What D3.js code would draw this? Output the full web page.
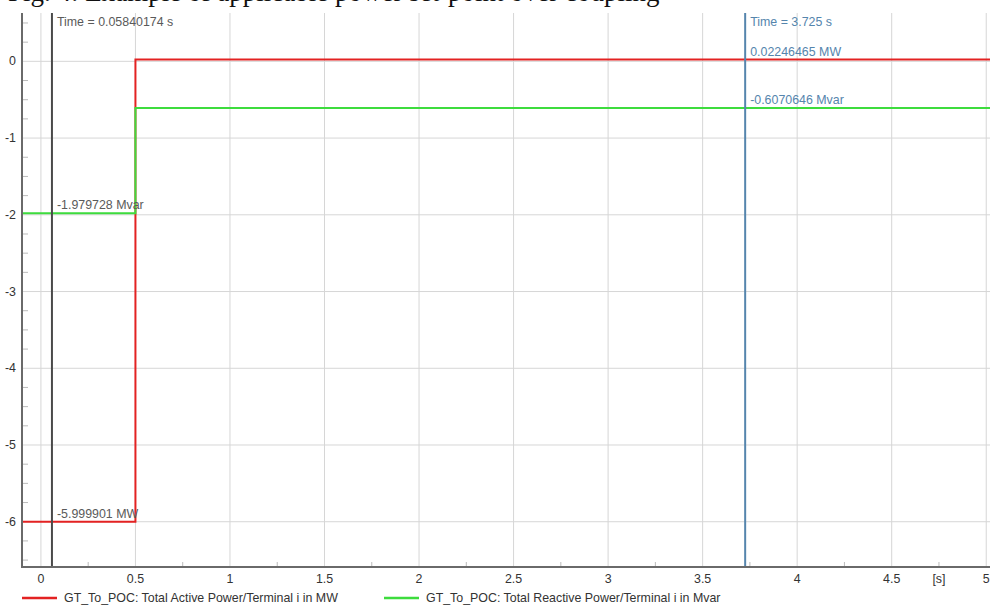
<!DOCTYPE html>
<html>
<head>
<meta charset="utf-8">
<style>
  body { margin: 0; background: #fff; }
  text { font-family: "Liberation Sans", Arial, sans-serif; }
</style>
</head>
<body>
<script src="https://cdn.jsdelivr.net/npm/d3@7"></script>
<script>
  const width = 998,
        height = 607

  const colors = {active: '#e32222', reactive: '#3ddc3d', axis: '#6a6a6a',
                  grid: '#d6d6d6', text: '#333', label: '#5a5a5a',
                  cursorA: '#4a4a4a', cursorB: '#5585ad'}

  const fontSize = "12.4px"

  // series (time in s)
  const activeTime = [-0.1, 0.5, 0.5, 0.5, 5.02]
  const activeValue = [-5.999901, -5.999901, -5.8, 0.02246465, 0.02246465]
  const reactiveTime = [-0.1, 0.5, 0.5, 0.5, 5.02]
  const reactiveValue = [-1.979728, -1.979728, -1.8, -0.6070646, -0.6070646]

  const xTicks = [0, 0.5, 1, 1.5, 2, 2.5, 3, 3.5, 4, 4.5, 5]
  const xMinor = d3.range(0.25, 5, 0.5)
  const yTicks = [0, -1, -2, -3, -4, -5, -6]
  const yMinor = d3.range(-6.5, 0.6, 0.25).filter(d => Math.abs(d - Math.round(d)) > 0.01)

  const cursorTimes = [0.05840174, 3.725]
  const legendNames = ['GT_To_POC: Total Active Power/Terminal i in MW',
                       'GT_To_POC: Total Reactive Power/Terminal i in Mvar']

  const plot = {left: 22, right: 990, top: 13, bottom: 567}

  const xScale = d3.scaleLinear()
    .domain([-0.1, 5.02])
    .range([plot.left, plot.right])

  const yScale = d3.scaleLinear()
    .domain([-6.59, 0.63])
    .range([plot.bottom, plot.top])

  const svg = d3.select("body")
    .append("svg")
      .attr("width", width)
      .attr("height", height)

  // caption above the chart, cut off by the top edge as in the source
  svg.append("text")
    .attr("x", 8)
    .attr("y", 1)
    .style("font-family", "'Liberation Serif', serif")
    .style("font-size", "27px")
    .style("fill", "#111")
    .text("Fig. 4: Example of applicable power set-point over coupling")

  // grid
  svg.append("g").selectAll("line")
    .data(xTicks)
    .enter().append("line")
      .attr("x1", d => xScale(d)).attr("x2", d => xScale(d))
      .attr("y1", plot.top).attr("y2", plot.bottom)
      .attr("stroke", colors.grid)
      .attr("stroke-width", 1)

  svg.append("g").selectAll("line")
    .data(yTicks)
    .enter().append("line")
      .attr("x1", plot.left).attr("x2", plot.right)
      .attr("y1", d => yScale(d)).attr("y2", d => yScale(d))
      .attr("stroke", colors.grid)
      .attr("stroke-width", 1)

  // minor ticks
  svg.append("g").selectAll("line")
    .data(xMinor)
    .enter().append("line")
      .attr("x1", d => xScale(d)).attr("x2", d => xScale(d))
      .attr("y1", plot.bottom).attr("y2", plot.bottom - 5)
      .attr("stroke", '#bbb')

  svg.append("g").selectAll("line")
    .data(yMinor)
    .enter().append("line")
      .attr("x1", plot.left).attr("x2", plot.left + 6)
      .attr("y1", d => yScale(d)).attr("y2", d => yScale(d))
      .attr("stroke", '#bbb')

  // series
  const line = d3.line()
    .x(d => xScale(d[0]))
    .y(d => yScale(d[1]))

  svg.append("path")
    .datum(activeTime.map((t, i) => [t, activeValue[i]]))
    .attr("d", line)
    .attr("fill", "none")
    .attr("stroke", colors.active)
    .attr("stroke-width", 2)

  svg.append("path")
    .datum(reactiveTime.map((t, i) => [t, reactiveValue[i]]))
    .attr("d", line)
    .attr("fill", "none")
    .attr("stroke", colors.reactive)
    .attr("stroke-width", 2)

  // cursors
  const cursorColors = [colors.cursorA, colors.cursorB]
  svg.append("g").selectAll("line")
    .data(cursorTimes)
    .enter().append("line")
      .attr("x1", d => xScale(d)).attr("x2", d => xScale(d))
      .attr("y1", plot.top).attr("y2", plot.bottom)
      .attr("stroke", (d, i) => cursorColors[i])
      .attr("stroke-width", 2)

  svg.append("g").selectAll("text")
    .data(cursorTimes)
    .enter().append("text")
      .attr("x", d => xScale(d) + 5)
      .attr("y", 26)
      .style("font-size", fontSize)
      .style("fill", (d, i) => i ? colors.cursorB : colors.label)
      .text(d => `Time = ${d} s`)

  // value labels at the cursors
  const valueLabels = [
    {t: cursorTimes[0], v: reactiveValue[0], text: `${reactiveValue[0]} Mvar`, color: colors.label},
    {t: cursorTimes[0], v: activeValue[0], text: `${activeValue[0]} MW`, color: colors.label},
    {t: cursorTimes[1], v: activeValue[4], text: `${activeValue[4]} MW`, color: colors.cursorB},
    {t: cursorTimes[1], v: reactiveValue[4], text: `${reactiveValue[4]} Mvar`, color: colors.cursorB}
  ]
  svg.append("g").selectAll("text")
    .data(valueLabels)
    .enter().append("text")
      .attr("x", d => xScale(d.t) + 5)
      .attr("y", d => yScale(d.v) - 4)
      .style("font-size", fontSize)
      .style("fill", d => d.color)
      .text(d => d.text)

  // axes lines
  svg.append("line")
    .attr("x1", plot.left).attr("x2", plot.left)
    .attr("y1", plot.top).attr("y2", plot.bottom + 1)
    .attr("stroke", colors.axis).attr("stroke-width", 2)
  svg.append("line")
    .attr("x1", plot.left - 1).attr("x2", plot.right)
    .attr("y1", plot.bottom).attr("y2", plot.bottom)
    .attr("stroke", colors.axis).attr("stroke-width", 2)

  // tick labels
  svg.append("g").selectAll("text")
    .data(xTicks)
    .enter().append("text")
      .attr("x", d => xScale(d))
      .attr("y", 583)
      .style("text-anchor", "middle")
      .style("font-size", fontSize)
      .style("fill", colors.text)
      .text(d => d)
  svg.append("text")
    .attr("x", xScale(4.75))
    .attr("y", 583)
    .style("text-anchor", "middle")
    .style("font-size", fontSize)
    .style("fill", colors.text)
    .text("[s]")

  svg.append("g").selectAll("text")
    .data(yTicks)
    .enter().append("text")
      .attr("x", 16)
      .attr("y", d => yScale(d) + 4)
      .style("text-anchor", "end")
      .style("font-size", fontSize)
      .style("fill", colors.text)
      .text(d => d)

  // legend
  const legendX = [22, 384]
  const legendColors = [colors.active, colors.reactive]
  const legend = svg.append("g").selectAll("g")
    .data(legendNames)
    .enter().append("g")
      .attr("transform", (d, i) => `translate(${legendX[i]}, 598)`)
  legend.append("line")
    .attr("x1", 0).attr("x2", 35)
    .attr("stroke", (d, i) => legendColors[i])
    .attr("stroke-width", 2.5)
  legend.append("text")
    .attr("x", 42)
    .attr("y", 4)
    .style("font-size", fontSize)
    .style("fill", colors.text)
    .text(d => d)
</script>
</body>
</html>
